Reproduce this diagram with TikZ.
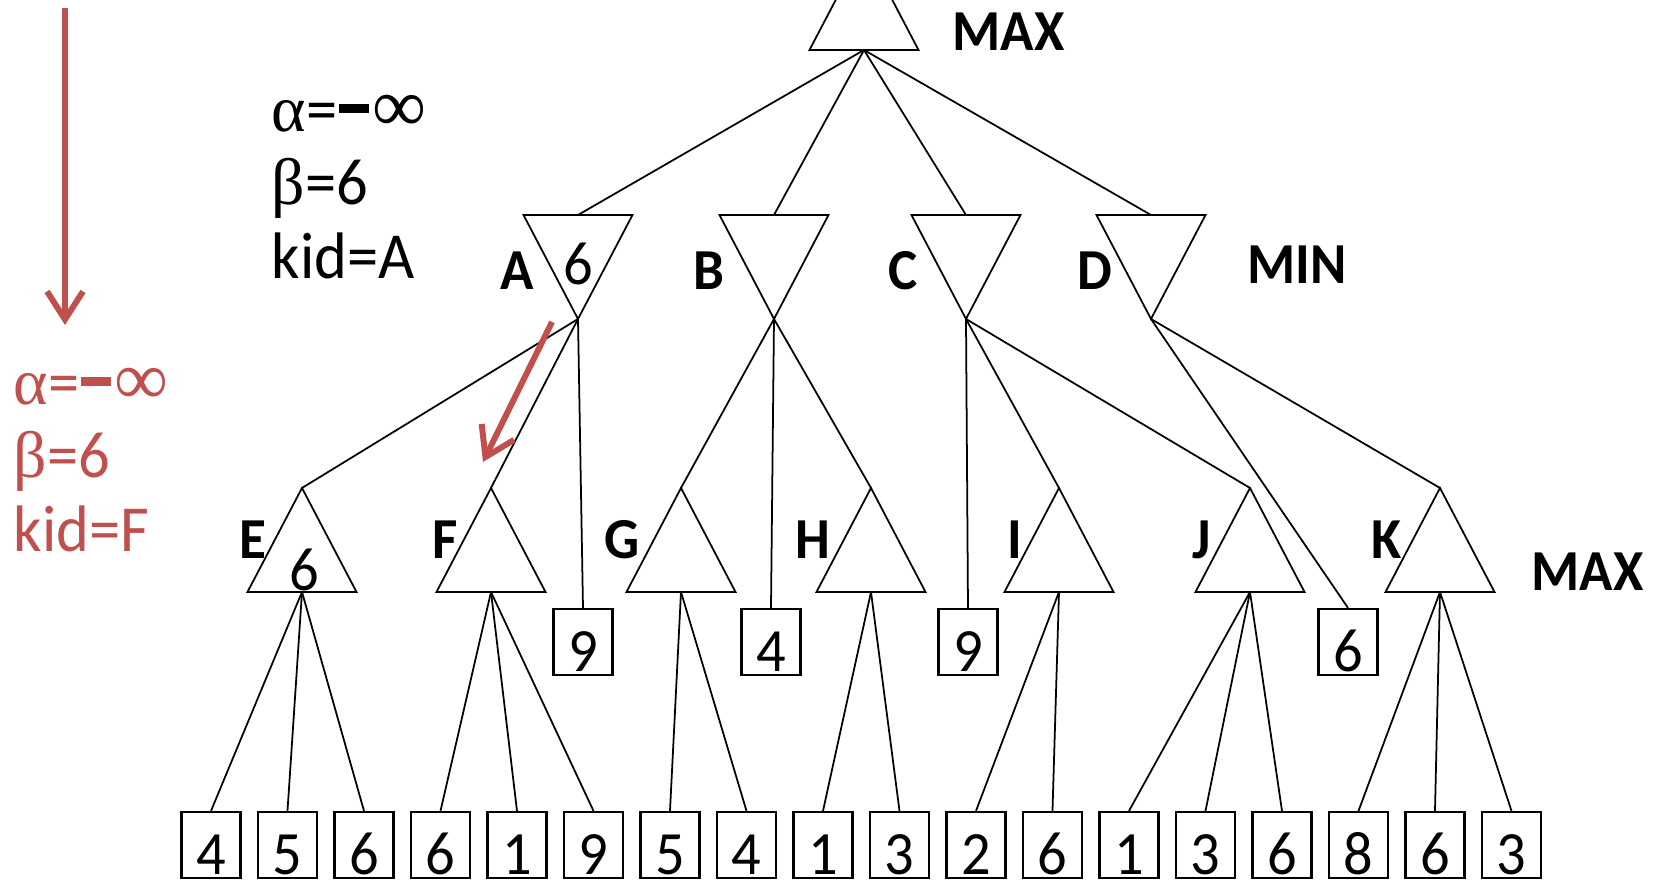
\documentclass[tikz,border=0pt]{standalone}
\usepackage{fontspec}
\setmainfont{Carlito}[FakeStretch=0.95]
\newfontfamily\symf{Liberation Serif}
\usetikzlibrary{arrows.meta}
\definecolor{alphared}{RGB}{192,80,77}
\newcommand{\negbar}{\kern0.5pt\rule[5.2pt]{8.5pt}{2.4pt}\kern1pt}
\newcommand{\infsym}{{\symf\fontsize{21.5}{21}\selectfont ∞}}

\tikzset{
  edge/.style={line width=0.5pt},
  maxtri/.pic={
    \draw[edge] (-54.5,0) -- (54.5,0) -- (0,-104) -- cycle;
    \coordinate (-top) at (0,-104);
    \coordinate (-bot) at (0,0);
  },
  mintri/.pic={
    \draw[edge] (-54.5,0) -- (54.5,0) -- (0,104) -- cycle;
    \coordinate (-top) at (0,0);
    \coordinate (-bot) at (0,104);
  },
  box/.style={draw, line width=0.6pt, minimum width=0.59cm, minimum height=0.66cm,
    inner sep=0pt, text height=0.6cm, text depth=0.02cm, font=\fontsize{17.5}{20}\selectfont},
  tag/.style={font=\bfseries\fontsize{16.5}{19}\selectfont},
  val/.style={font=\fontsize{17.5}{20}\selectfont},
  bounds/.style={anchor=west, align=left, inner sep=0pt, font=\fontsize{18.7}{21}\selectfont},
  redarrow/.style={draw=alphared, line width=1.7pt, -{Straight Barb[length=2.8mm,width=3.6mm]}}
}

\begin{document}
\begin{tikzpicture}[x=0.01cm, y=-0.01cm]
\useasboundingbox (0,0) rectangle (1653,886);
\clip (0,0) rectangle (1653,886);

% triangles
\pic (root) at (864,50) {maxtri};
\pic (A) at (578,215) {mintri};
\pic (B) at (774,215) {mintri};
\pic (C) at (966,215) {mintri};
\pic (D) at (1151,215) {mintri};
\pic (E) at (302,592) {maxtri};
\pic (F) at (491,592) {maxtri};
\pic (G) at (681,592) {maxtri};
\pic (H) at (871,592) {maxtri};
\pic (I) at (1059,592) {maxtri};
\pic (J) at (1250,592) {maxtri};
\pic (K) at (1440,592) {maxtri};

% level labels
\node [tag, anchor=west, inner sep=0pt] (lmax1) at (952,32) {MAX};
\node [tag, anchor=west, inner sep=0pt] (lmin) at (1247,265) {MIN};
\node [tag, anchor=west, inner sep=0pt] (lmax2) at (1531,572) {MAX};

\node [tag] (tA) at (517,271) {A};
\node [tag] (tB) at (709,271) {B};
\node [tag] (tC) at (903,271) {C};
\node [tag] (tD) at (1095,271) {D};
\node [tag] (tE) at (253,540) {E};
\node [tag] (tF) at (445,540) {F};
\node [tag] (tG) at (622,540) {G};
\node [tag] (tH) at (813,540) {H};
\node [tag] (tI) at (1015,540) {I};
\node [tag] (tJ) at (1202,540) {J};
\node [tag] (tK) at (1387,540) {K};

\node [val] (vA) at (578,264) {6};
\node [val] (vE) at (304,570) {6};

% single leaves under MIN
\node [box] (m1) at (583,642) {9};
\node [box] (m2) at (771,642) {4};
\node [box] (m3) at (968,642) {9};
\node [box] (m4) at (1348,642) {6};

% bottom leaves
\foreach \v [count=\i] in {4,5,6,6,1,9,5,4,1,3,2,6,1,3,6,8,6,3}
  \node [box] (l\i) at ({211+76.5*(\i-1)},845) {\v};

% edges
\foreach \k in {A,B,C,D}
  \draw [edge] (root-bot) -- (\k-top);
\draw [edge] (A-bot) -- (E-top);
\draw [edge] (A-bot) -- (F-top);
\draw [edge] (A-bot) -- (m1.north);
\draw [edge] (B-bot) -- (G-top);
\draw [edge] (B-bot) -- (m2.north);
\draw [edge] (B-bot) -- (H-top);
\draw [edge] (C-bot) -- (m3.north);
\draw [edge] (C-bot) -- (I-top);
\draw [edge] (C-bot) -- (J-top);
\draw [edge] (D-bot) -- (m4.north);
\draw [edge] (D-bot) -- (K-top);

\foreach \i in {1,2,3} \draw [edge] (E-bot) -- (l\i.north);
\foreach \i in {4,5,6} \draw [edge] (F-bot) -- (l\i.north);
\foreach \i in {7,8} \draw [edge] (G-bot) -- (l\i.north);
\foreach \i in {9,10} \draw [edge] (H-bot) -- (l\i.north);
\foreach \i in {11,12} \draw [edge] (I-bot) -- (l\i.north);
\foreach \i in {13,14,15} \draw [edge] (J-bot) -- (l\i.north);
\foreach \i in {16,17,18} \draw [edge] (K-bot) -- (l\i.north);

% bounds
\node [bounds] (bnd) at (271,187)
  {{\symf α}=\negbar\infsym\\ {\symf β}=6\\ kid=A};
\node [bounds, text=alphared] (bndF) at (13,460)
  {{\symf α}=\negbar\infsym\\ {\symf β}=6\\ kid=F};

% red arrows
\coordinate (s1) at (65,8);
\coordinate (s2) at (65,325);
\draw [redarrow] (s1) -- (s2);
\coordinate (d1) at (552,322);
\coordinate (d2) at (483,462);
\draw [redarrow] (d1) -- (d2);
\end{tikzpicture}
\end{document}
